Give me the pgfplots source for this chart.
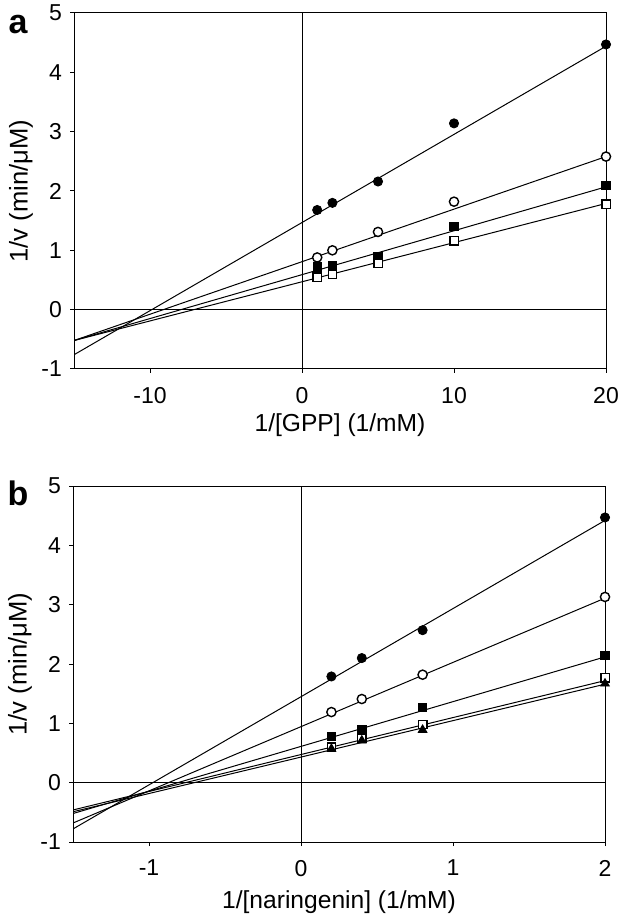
\documentclass[border=0pt]{standalone}
\usepackage{pgfplots}
\pgfplotsset{compat=1.18}
\usepackage{fontspec}
\setmainfont{Liberation Sans}
\begin{document}
\fontsize{11.5pt}{13pt}\selectfont
\begin{tikzpicture}
\useasboundingbox (-37pt,-277.5pt) rectangle (277.5pt,184.5pt);
\pgfplotsset{
  kin/.style={
    scale only axis, width=266pt, height=178pt,
    /pgf/number format/assume math mode=true,
    ymin=-1, ymax=5, ytick={-1,0,...,5},
    tick align=outside, xtick pos=bottom, ytick pos=left,
    major tick length=2pt,
    tick style={black, line width=0.5pt},
    axis line style={line width=0.5pt},
    ticklabel style={font=\fontsize{11.5pt}{13pt}\selectfont},
    xticklabel style={yshift=-3pt},
    label style={font=\fontsize{12.3pt}{13pt}\selectfont},
    ylabel={1/v (min/μM)},
    ylabel style={at={(axis description cs:0,0.5)}, anchor=center, yshift=26.5pt, font=\fontsize{12.8pt}{13pt}\selectfont},
    xlabel style={at={(axis description cs:0.5,0)}, anchor=center, yshift=-28pt},
    clip=true,
  },
  fit/.style={black, line width=0.5pt, no marks},
  fc/.style={only marks, mark=*, mark size=2.3pt, mark options={fill=black, draw=black}},
  oc/.style={only marks, mark=*, mark size=2.3pt, mark options={fill=white, draw=black, line width=0.7pt}},
  fs/.style={only marks, mark=square*, mark size=2.1pt, mark options={fill=black, draw=black}},
  os/.style={only marks, mark=square*, mark size=2.1pt, mark options={fill=white, draw=black, line width=0.7pt}},
  ft/.style={only marks, mark=triangle*, mark size=2.5pt, mark options={fill=black, draw=black}},
}
% Panel a
\begin{axis}[kin, at={(0pt,0pt)}, anchor=south west,
  xmin=-15, xmax=20, xtick={-10,0,10,20},
  xlabel={1/[GPP] (1/mM)}]
\addplot[black, line width=0.5pt] coordinates {(-15,0) (20,0)};
\addplot[black, line width=0.5pt] coordinates {(0,-1) (0,5)};
\addplot[fit] coordinates {(-15,-0.76) (20,4.44)};
\addplot[fit] coordinates {(-15,-0.52) (20,2.58)};
\addplot[fit] coordinates {(-15,-0.52) (20,2.07)};
\addplot[fit] coordinates {(-15,-0.52) (20,1.79)};
\addplot[fc] coordinates {(1,1.68) (2,1.80) (5,2.16) (10,3.14) (20,4.47)};
\addplot[oc] coordinates {(1,0.88) (2,1.00) (5,1.31) (10,1.82) (20,2.58)};
\addplot[fs] coordinates {(1,0.72) (2,0.75) (5,0.90) (10,1.40) (20,2.09)};
\addplot[os] coordinates {(1,0.55) (2,0.60) (5,0.78) (10,1.16) (20,1.78)};
\end{axis}
\node[font=\fontsize{17pt}{18pt}\selectfont\bfseries] at (-28pt,172pt) {a};
% Panel b
\begin{axis}[kin, at={(-0.5pt,-236.5pt)}, anchor=south west,
  xmin=-1.5, xmax=2, xtick={-1,0,1,2},
  xlabel style={yshift=-2pt},
  xlabel={1/[naringenin] (1/mM)}]
\addplot[black, line width=0.5pt] coordinates {(-1.5,0) (2,0)};
\addplot[black, line width=0.5pt] coordinates {(0,-1) (0,5)};
\addplot[fit] coordinates {(-1.5,-0.78) (2,4.42)};
\addplot[fit] coordinates {(-1.5,-0.68) (2,3.11)};
\addplot[fit] coordinates {(-1.5,-0.52) (2,2.12)};
\addplot[fit] coordinates {(-1.5,-0.46) (2,1.72)};
\addplot[fit] coordinates {(-1.5,-0.49) (2,1.66)};
\addplot[fc] coordinates {(0.2,1.79) (0.4,2.10) (0.8,2.57) (2,4.47)};
\addplot[oc] coordinates {(0.2,1.19) (0.4,1.41) (0.8,1.82) (2,3.13)};
\addplot[fs] coordinates {(0.2,0.78) (0.4,0.89) (0.8,1.27) (2,2.15)};
\addplot[os] coordinates {(0.2,0.60) (0.4,0.75) (0.8,0.98) (2,1.77)};
\addplot[ft] coordinates {(0.2,0.57) (0.4,0.71) (0.8,0.89) (2,1.67)};
\end{axis}
\node[font=\fontsize{17pt}{18pt}\selectfont\bfseries] at (-28pt,-62pt) {b};
\end{tikzpicture}
\end{document}
